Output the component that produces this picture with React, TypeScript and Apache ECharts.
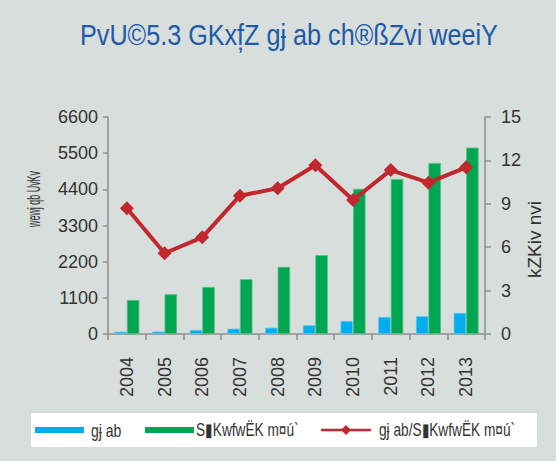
import React, { useEffect, useRef } from "react";
import * as echarts from "echarts";

const years = ["2004", "2005", "2006", "2007", "2008", "2009", "2010", "2011", "2012", "2013"];
const capital = [70, 75, 122, 162, 192, 265, 396, 518, 539, 640];
const riskAssets = [1036, 1210, 1432, 1667, 2042, 2398, 4418, 4714, 5201, 5668];
const ratio = [8.69, 5.58, 6.68, 9.56, 10.07, 11.66, 9.26, 11.33, 10.46, 11.52];

const titleText = "PvU©5.3 GKxf\u0326Z g\u0249 ab ch®ßZvi weeiY";
const leftName = "wewj qb UvKv";
const rightName = "kZKiv nvi";
const nameCapital = "g\u0249 ab";
const nameRisk = "S\u25AEKwfwËK m¤ú`";
const nameRatio = "g\u0249 ab/S\u25AEKwfwËK m¤ú`";

const FONT = "'Liberation Sans', Arial, sans-serif";
const BLUE = "#00aeef";
const GREEN = "#00a651";
const RED = "#c1272d";
const AXIS = "#8f8f8f";
const TXT = "#333333";

export default function App() {
  const ref = useRef<HTMLDivElement>(null);
  useEffect(() => {
    document.body.style.margin = "0";
    const chart = echarts.init(ref.current!, null, { renderer: "svg" });
    chart.setOption({
      animation: false,
      backgroundColor: "#d8dedb",
      grid: { left: 108, right: 71, top: 117, bottom: 127 },
      xAxis: {
        type: "category",
        data: years,
        axisLine: { lineStyle: { color: AXIS, width: 1.5 } },
        axisTick: { show: true, alignWithLabel: false, length: 6, lineStyle: { color: AXIS, width: 1.5 } },
        axisLabel: { rotate: 90, margin: 23, fontFamily: FONT, fontSize: 18, color: TXT },
      },
      yAxis: [
        {
          type: "value",
          min: 0,
          max: 6600,
          interval: 1100,
          splitLine: { show: false },
          axisLine: { show: true, lineStyle: { color: AXIS, width: 1.5 } },
          axisTick: { show: true, length: 5, lineStyle: { color: AXIS, width: 1.5 } },
          axisLabel: { margin: 10, fontFamily: FONT, fontSize: 18, color: TXT, formatter: (v: number) => String(v) },
        },
        {
          type: "value",
          min: 0,
          max: 15,
          interval: 3,
          splitLine: { show: false },
          axisLine: { show: true, lineStyle: { color: AXIS, width: 1.5 } },
          axisTick: { show: true, length: 6, lineStyle: { color: AXIS, width: 1.5 } },
          axisLabel: { margin: 16, fontFamily: FONT, fontSize: 18, color: TXT },
        },
      ],
      series: [
        {
          name: nameCapital,
          type: "bar",
          yAxisIndex: 0,
          data: capital,
          barWidth: 12.5,
          barGap: "0%",
          itemStyle: { color: BLUE, borderColor: "#5cc8f0", borderWidth: 0.8 },
        },
        {
          name: nameRisk,
          type: "bar",
          yAxisIndex: 0,
          data: riskAssets,
          barWidth: 12.5,
          barGap: "0%",
          itemStyle: { color: GREEN, borderColor: "#5cbf85", borderWidth: 0.8 },
        },
        {
          name: nameRatio,
          type: "line",
          yAxisIndex: 1,
          data: ratio,
          symbol: "diamond",
          symbolSize: 14,
          lineStyle: { color: RED, width: 4 },
          itemStyle: { color: RED },
          z: 5,
        },
      ],
      graphic: [
        {
          type: "text",
          x: 80,
          y: 35,
          scaleX: 0.84,
          style: { text: titleText, font: `30px ${FONT}`, fill: "#1d5aa8", textVerticalAlign: "middle" },
          silent: true,
        },
        {
          type: "text",
          x: 34,
          y: 227,
          rotation: Math.PI / 2,
          scaleX: 0.47,
          style: { text: leftName, font: `19px ${FONT}`, fill: TXT, textVerticalAlign: "middle" },
          silent: true,
        },
        {
          type: "text",
          x: 534,
          y: 278,
          rotation: Math.PI / 2,
          style: { text: rightName, font: `19px ${FONT}`, fill: TXT, textVerticalAlign: "middle" },
          silent: true,
        },
        { type: "rect", shape: { x: 31, y: 413, width: 506, height: 34 }, style: { fill: "#ffffff" }, silent: true },
        { type: "rect", shape: { x: 35, y: 427, width: 49, height: 6 }, style: { fill: BLUE }, silent: true },
        {
          type: "text",
          x: 91,
          y: 430,
          scaleX: 0.78,
          style: { text: nameCapital, font: `18px ${FONT}`, fill: TXT, textVerticalAlign: "middle" },
          silent: true,
        },
        { type: "rect", shape: { x: 145, y: 427, width: 49, height: 6 }, style: { fill: GREEN }, silent: true },
        {
          type: "text",
          x: 196,
          y: 430,
          scaleX: 0.76,
          style: { text: nameRisk, font: `18px ${FONT}`, fill: TXT, textVerticalAlign: "middle" },
          silent: true,
        },
        {
          type: "line",
          shape: { x1: 321, y1: 430, x2: 371, y2: 430 },
          style: { stroke: RED, lineWidth: 2.5 },
          silent: true,
        },
        {
          type: "polygon",
          shape: { points: [[346, 425], [351, 430], [346, 435], [341, 430]] },
          style: { fill: RED },
          silent: true,
        },
        {
          type: "text",
          x: 379,
          y: 430,
          scaleX: 0.76,
          style: { text: nameRatio, font: `18px ${FONT}`, fill: TXT, textVerticalAlign: "middle" },
          silent: true,
        },
      ],
    });
    return () => chart.dispose();
  }, []);
  return <div ref={ref} style={{ position: "fixed", left: 0, top: 0, width: 556, height: 461 }} />;
}
